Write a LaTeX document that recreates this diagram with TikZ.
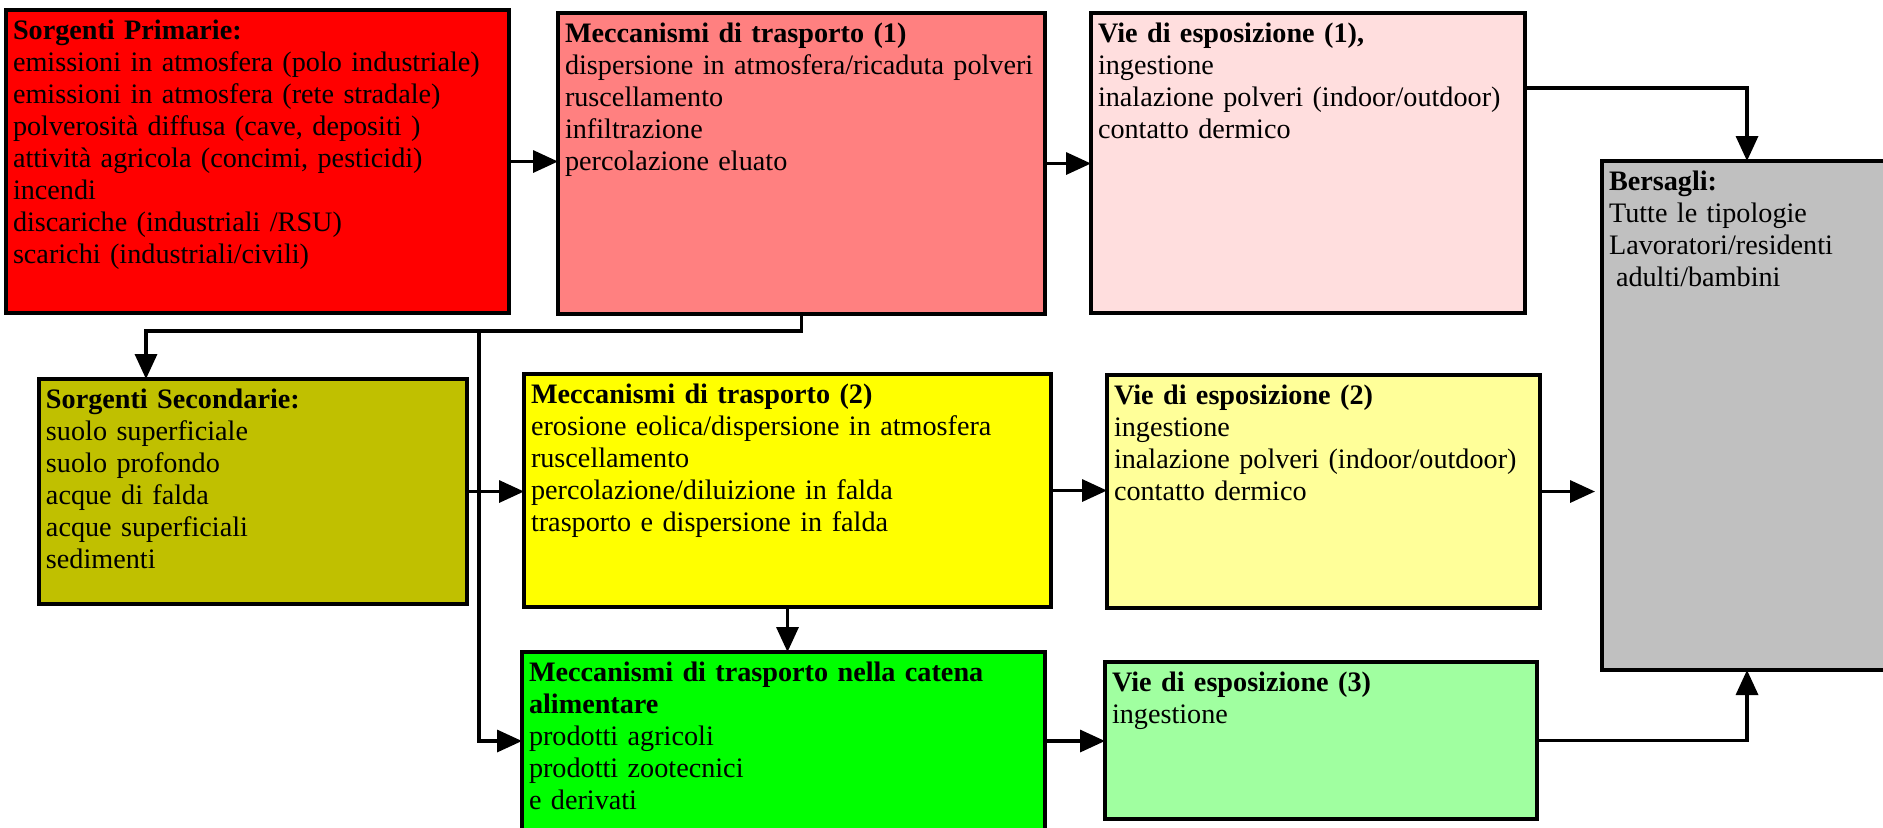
\documentclass[tikz,border=0pt]{standalone}
\usepackage{fontspec}
\setmainfont{Liberation Serif}
\usetikzlibrary{arrows.meta,calc}
\definecolor{cRed}{HTML}{FF0000}
\definecolor{cSalmon}{HTML}{FF8080}
\definecolor{cPink}{HTML}{FFDEDE}
\definecolor{cGrey}{HTML}{C0C0C0}
\definecolor{cOlive}{HTML}{C0C000}
\definecolor{cYellow}{HTML}{FFFF00}
\definecolor{cLYellow}{HTML}{FFFF99}
\definecolor{cGreen}{HTML}{00FF00}
\definecolor{cLGreen}{HTML}{A0FFA0}
\begin{document}
\begin{tikzpicture}[x=0.5pt,y=-0.5pt,
  bx/.style={draw, line width=1.9pt, anchor=north west, inner xsep=3.5pt,
    inner ysep=0pt, outer sep=0pt, align=left, text height=14.5pt,
    font=\fontsize{14.1pt}{16pt}\selectfont},
  conn/.style={line width=1.7pt},
  arr/.style={conn, -{Triangle[length=12.5pt,width=11pt]}}]
\useasboundingbox (0,0) rectangle (1883,827);
\clip (0,0) rectangle (1883,827);

\node[bx, fill=cRed, text width=244.5pt, text depth=137pt] (b1) at (6,10)
  {\mbox{\textbf{Sorgenti Primarie:}}\\
   \mbox{emissioni in atmosfera (polo industriale)}\\
   \mbox{emissioni in atmosfera (rete stradale)}\\
   \mbox{polverosità diffusa (cave, depositi )}\\
   \mbox{attività agricola (concimi, pesticidi)}\\
   \mbox{incendi}\\
   \mbox{discariche (industriali /RSU)}\\
   \mbox{scarichi (industriali/civili)}};

\node[bx, fill=cSalmon, text width=236.5pt, text depth=136pt] (b2) at (558,13)
  {\mbox{\textbf{Meccanismi di trasporto (1)}}\\
   \mbox{dispersione in atmosfera/ricaduta polveri}\\
   \mbox{ruscellamento}\\
   \mbox{infiltrazione}\\
   \mbox{percolazione eluato}};

\node[bx, fill=cPink, text width=210pt, text depth=135.5pt] (b3) at (1091,13)
  {\mbox{\textbf{Vie di esposizione (1),}}\\
   \mbox{ingestione}\\
   \mbox{inalazione polveri (indoor/outdoor)}\\
   \mbox{contatto dermico}};

\node[bx, fill=cGrey, text width=138pt, text depth=240pt] (bers) at (1602,161)
  {\mbox{\textbf{Bersagli:}}\\
   \mbox{Tutte le tipologie}\\
   \mbox{Lavoratori/residenti}\\
   \mbox{\hspace*{3.5pt}adulti/bambini}};

\node[bx, fill=cOlive, text width=207pt, text depth=98pt] (ss) at (39,379)
  {\mbox{\textbf{Sorgenti Secondarie:}}\\
   \mbox{suolo superficiale}\\
   \mbox{suolo profondo}\\
   \mbox{acque di falda}\\
   \mbox{acque superficiali}\\
   \mbox{sedimenti}};

\node[bx, fill=cYellow, text width=256.5pt, text depth=102pt] (mecc2) at (524,374)
  {\mbox{\textbf{Meccanismi di trasporto (2)}}\\
   \mbox{erosione eolica/dispersione in atmosfera}\\
   \mbox{ruscellamento}\\
   \mbox{percolazione/diluizione in falda}\\
   \mbox{trasporto e dispersione in falda}};

\node[bx, fill=cLYellow, text width=209.5pt, text depth=102pt] (vie2) at (1107,375)
  {\mbox{\textbf{Vie di esposizione (2)}}\\
   \mbox{ingestione}\\
   \mbox{inalazione polveri (indoor/outdoor)}\\
   \mbox{contatto dermico}};

\node[bx, fill=cGreen, text width=254.5pt, text depth=74.5pt] (green) at (522,652)
  {\mbox{\textbf{Meccanismi di trasporto nella catena}}\\
   \mbox{\textbf{alimentare}}\\
   \mbox{prodotti agricoli}\\
   \mbox{prodotti zootecnici}\\
   \mbox{e derivati}};

\node[bx, fill=cLGreen, text width=209pt, text depth=64pt] (vie3) at (1105,662)
  {\mbox{\textbf{Vie di esposizione (3)}}\\
   \mbox{ingestione}};

\coordinate (ssin) at ($(ss.north west)+(107,0)$);
\coordinate (split) at (479,331);

\draw[arr] (b1.east) -- (b1.east -| b2.west);
\draw[arr] (b2.east) -- (b2.east -| b3.west);
\draw[arr] ($(b3.north east)+(0,75)$) -| (bers.north);
\draw[arr] (b2.south) |- ($(ssin)+(0,-48)$) -- (ssin);
\draw[arr] (split) |- (green.west);
\draw[arr] (ss.east) -- (ss.east -| mecc2.west);
\draw[arr] (mecc2.east) -- (mecc2.east -| vie2.west);
\draw[arr, shorten >=3.5pt] (vie2.east) -- (vie2.east -| bers.west);
\draw[arr] (mecc2.south) -- (mecc2.south |- green.north);
\draw[arr] (green.east) -- (green.east -| vie3.west);
\draw[arr] (vie3.east) -| (bers.south);
\end{tikzpicture}
\end{document}
